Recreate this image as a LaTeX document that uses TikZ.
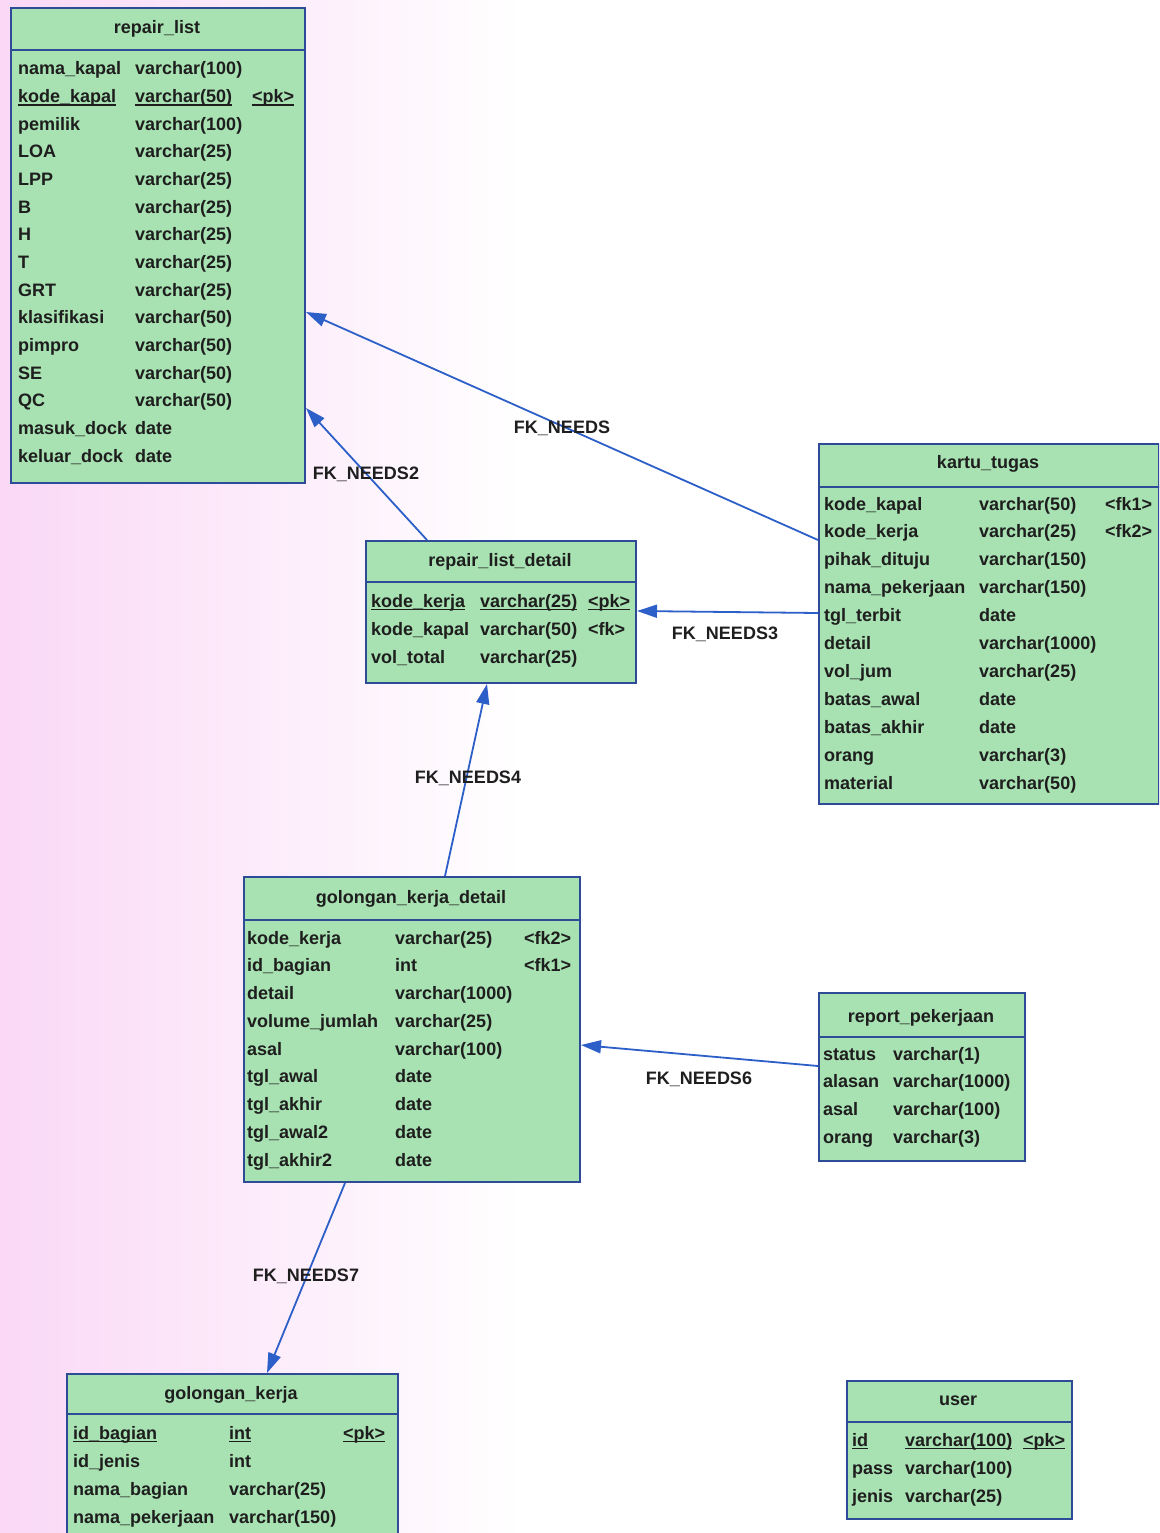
\documentclass[tikz,border=0pt]{standalone}
\usepackage{fontspec}
\setmainfont{Liberation Sans}
\usetikzlibrary{arrows.meta}
\definecolor{tblfill}{RGB}{168,226,178}
\definecolor{tblline}{RGB}{45,75,150}
\definecolor{fkline}{RGB}{45,95,200}
\definecolor{txt}{RGB}{30,30,30}
\definecolor{bgpink}{RGB}{250,216,246}
\newcommand\ulx[1]{\leavevmode\setbox0=\hbox{#1}\rlap{\rule[-3pt]{\wd0}{1.4pt}}\box0}
\tikzset{
  tbl/.style={draw=tblline, line width=2pt, fill=tblfill, inner sep=0pt, anchor=north west, rectangle},
  hdr/.style={draw=tblline, line width=2pt},
  cell/.style={font=\bfseries\fontsize{18}{18}\selectfont, text=txt, anchor=west, inner sep=0pt, text height=13pt, text depth=4pt, yshift=-1.5pt},
  ttl/.style={cell, anchor=center},
  fk/.style={draw=fkline, line width=1.8pt, -{Triangle[length=20pt,width=13pt]}},
  fklabel/.style={cell, anchor=center}
}
\begin{document}
\begin{tikzpicture}[x=1pt,y=-1pt]
\useasboundingbox (0,0) rectangle (1159,1533);
\clip (0,0) rectangle (1159,1533);
\shade[left color=bgpink, right color=white] (0,0) rectangle (520,1533);
\fill[white] (520,0) rectangle (1159,1533);

% ---------- repair_list
\node[tbl, minimum width=294pt, minimum height=475pt] (rl) at (10,7) {};
\draw[hdr] ([yshift=-43pt]rl.north west) -- ([yshift=-43pt]rl.north east);
\node[ttl] (rl-t) at (157,28) {repair\_list};
\foreach \a/\b/\c [count=\i from 0] in {
  nama\_kapal/varchar(100)/,
  \ulx{kode\_kapal}/\ulx{varchar(50)}/\ulx{<pk>},
  pemilik/varchar(100)/,
  LOA/varchar(25)/,
  LPP/varchar(25)/,
  B/varchar(25)/,
  H/varchar(25)/,
  T/varchar(25)/,
  GRT/varchar(25)/,
  klasifikasi/varchar(50)/,
  pimpro/varchar(50)/,
  SE/varchar(50)/,
  QC/varchar(50)/,
  masuk\_dock/date/,
  keluar\_dock/date/}{
  \node[cell] (rl-a\i) at (18,{69+27.65*\i}) {\a};
  \node[cell] (rl-b\i) at (135,{69+27.65*\i}) {\b};
  \node[cell] (rl-c\i) at (252,{69+27.65*\i}) {\c};
}

% ---------- repair_list_detail
\node[tbl, minimum width=270pt, minimum height=142pt] (rld) at (365,540) {};
\draw[hdr] ([yshift=-42pt]rld.north west) -- ([yshift=-42pt]rld.north east);
\node[ttl] (rld-t) at (500,560) {repair\_list\_detail};
\foreach \a/\b/\c [count=\i from 0] in {
  \ulx{kode\_kerja}/\ulx{varchar(25)}/\ulx{<pk>},
  kode\_kapal/varchar(50)/<fk>,
  vol\_total/varchar(25)/}{
  \node[cell] (rld-a\i) at (371,{601+28*\i}) {\a};
  \node[cell] (rld-b\i) at (480,{601+28*\i}) {\b};
  \node[cell] (rld-c\i) at (588,{601+28*\i}) {\c};
}

% ---------- kartu_tugas
\node[tbl, minimum width=340pt, minimum height=360pt] (kt) at (818,443) {};
\draw[hdr] ([yshift=-44pt]kt.north west) -- ([yshift=-44pt]kt.north east);
\node[ttl] (kt-t) at (988,462) {kartu\_tugas};
\foreach \a/\b/\c [count=\i from 0] in {
  kode\_kapal/varchar(50)/<fk1>,
  kode\_kerja/varchar(25)/<fk2>,
  pihak\_dituju/varchar(150)/,
  nama\_pekerjaan/varchar(150)/,
  tgl\_terbit/date/,
  detail/varchar(1000)/,
  vol\_jum/varchar(25)/,
  batas\_awal/date/,
  batas\_akhir/date/,
  orang/varchar(3)/,
  material/varchar(50)/}{
  \node[cell] (kt-a\i) at (824,{504+27.9*\i}) {\a};
  \node[cell] (kt-b\i) at (979,{504+27.9*\i}) {\b};
  \node[cell] (kt-c\i) at (1105,{504+27.9*\i}) {\c};
}

% ---------- golongan_kerja_detail
\node[tbl, minimum width=336pt, minimum height=305pt] (gkd) at (243,876) {};
\draw[hdr] ([yshift=-44pt]gkd.north west) -- ([yshift=-44pt]gkd.north east);
\node[ttl] (gkd-t) at (411,897) {golongan\_kerja\_detail};
\foreach \a/\b/\c [count=\i from 0] in {
  kode\_kerja/varchar(25)/<fk2>,
  id\_bagian/int/<fk1>,
  detail/varchar(1000)/,
  volume\_jumlah/varchar(25)/,
  asal/varchar(100)/,
  tgl\_awal/date/,
  tgl\_akhir/date/,
  tgl\_awal2/date/,
  tgl\_akhir2/date/}{
  \node[cell] (gkd-a\i) at (247,{938+27.75*\i}) {\a};
  \node[cell] (gkd-b\i) at (395,{938+27.75*\i}) {\b};
  \node[cell] (gkd-c\i) at (524,{938+27.75*\i}) {\c};
}

% ---------- report_pekerjaan
\node[tbl, minimum width=206pt, minimum height=168pt] (rp) at (818,992) {};
\draw[hdr] ([yshift=-45pt]rp.north west) -- ([yshift=-45pt]rp.north east);
\node[ttl] (rp-t) at (921,1016) {report\_pekerjaan};
\foreach \a/\b [count=\i from 0] in {
  status/varchar(1),
  alasan/varchar(1000),
  asal/varchar(100),
  orang/varchar(3)}{
  \node[cell] (rp-a\i) at (823,{1054+27.7*\i}) {\a};
  \node[cell] (rp-b\i) at (893,{1054+27.7*\i}) {\b};
}

% ---------- golongan_kerja
\node[tbl, minimum width=331pt, minimum height=190pt] (gk) at (66,1373) {};
\draw[hdr] ([yshift=-41pt]gk.north west) -- ([yshift=-41pt]gk.north east);
\node[ttl] (gk-t) at (231,1393) {golongan\_kerja};
\foreach \a/\b/\c [count=\i from 0] in {
  \ulx{id\_bagian}/\ulx{int}/\ulx{<pk>},
  id\_jenis/int/,
  nama\_bagian/varchar(25)/,
  nama\_pekerjaan/varchar(150)/}{
  \node[cell] (gk-a\i) at (73,{1433+28*\i}) {\a};
  \node[cell] (gk-b\i) at (229,{1433+28*\i}) {\b};
  \node[cell] (gk-c\i) at (343,{1433+28*\i}) {\c};
}

% ---------- user
\node[tbl, minimum width=225pt, minimum height=138pt] (us) at (846,1380) {};
\draw[hdr] ([yshift=-42pt]us.north west) -- ([yshift=-42pt]us.north east);
\node[ttl] (us-t) at (958,1399) {user};
\foreach \a/\b/\c [count=\i from 0] in {
  \ulx{id}/\ulx{varchar(100)}/\ulx{<pk>},
  pass/varchar(100)/,
  jenis/varchar(25)/}{
  \node[cell] (us-a\i) at (852,{1440+28*\i}) {\a};
  \node[cell] (us-b\i) at (905,{1440+28*\i}) {\b};
  \node[cell] (us-c\i) at (1023,{1440+28*\i}) {\c};
}

% ---------- connectors
\draw[fk] ([yshift=-97pt]kt.north west) -- ([yshift=-305pt]rl.north east);
\draw[fk] ([xshift=62pt]rld.north west) -- ([yshift=-401pt]rl.north east);
\draw[fk] ([yshift=-170pt]kt.north west) -- ([yshift=-71pt]rld.north east);
\draw[fk] ([xshift=202pt]gkd.north west) -- ([xshift=122pt]rld.south west);
\draw[fk] ([yshift=-74pt]rp.north west) -- ([yshift=-169pt]gkd.north east);
\draw[fk] ([xshift=102pt]gkd.south west) -- ([xshift=201pt]gk.north west);

% ---------- labels
\node[fklabel] (l1) at (562,427) {FK\_NEEDS};
\node[fklabel] (l2) at (366,473) {FK\_NEEDS2};
\node[fklabel] (l3) at (725,633) {FK\_NEEDS3};
\node[fklabel] (l4) at (468,777) {FK\_NEEDS4};
\node[fklabel] (l6) at (699,1078) {FK\_NEEDS6};
\node[fklabel] (l7) at (306,1275) {FK\_NEEDS7};
\end{tikzpicture}
\end{document}
